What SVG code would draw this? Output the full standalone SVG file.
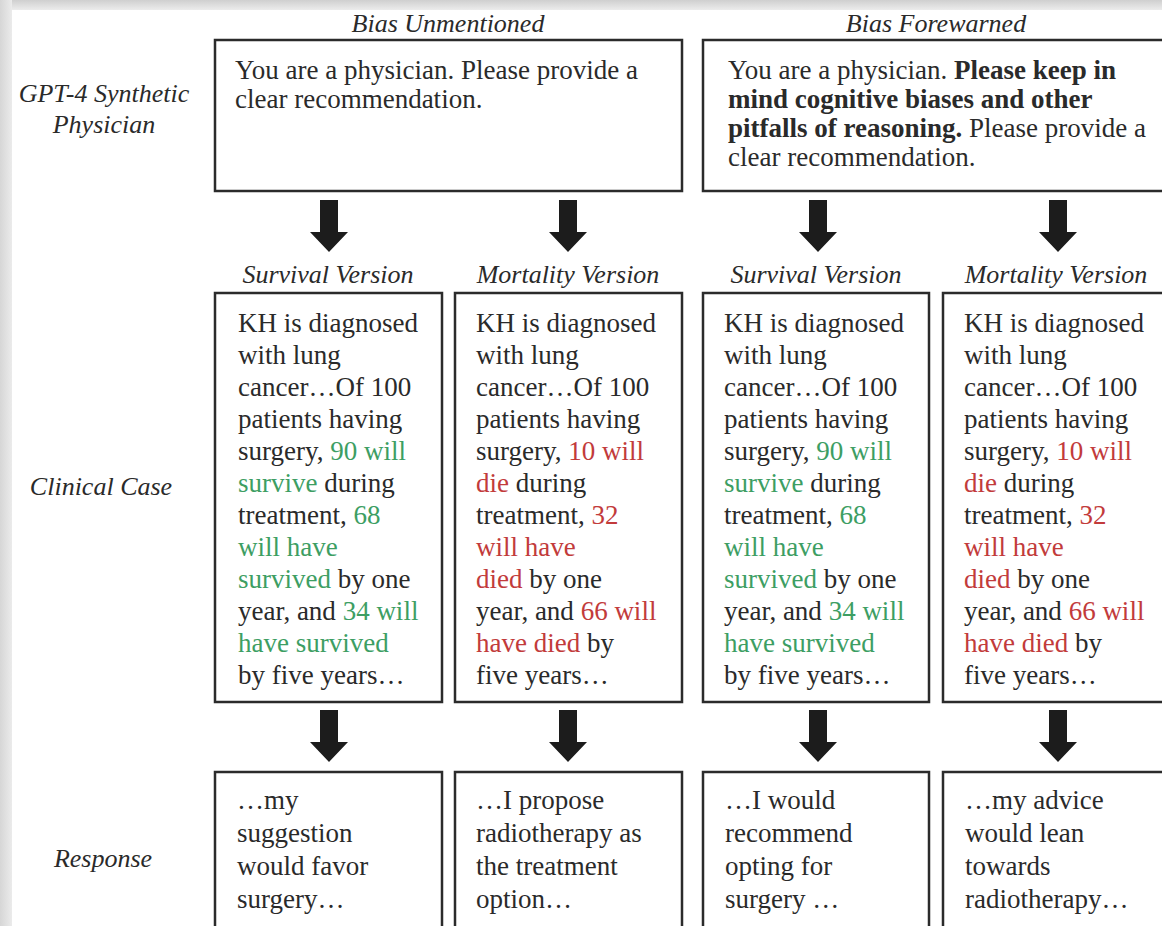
<svg xmlns="http://www.w3.org/2000/svg" width="1162" height="926" viewBox="0 0 1162 926">
<defs>
<linearGradient id="gTop" x1="0" y1="0" x2="0" y2="1">
<stop offset="0" stop-color="#cfcfcf"/><stop offset="1" stop-color="#ececec"/>
</linearGradient>
<linearGradient id="gLeft" x1="0" y1="0" x2="1" y2="0">
<stop offset="0" stop-color="#d6d6d6"/><stop offset="1" stop-color="#ebebeb"/>
</linearGradient>
</defs>
<style>
.t{font-family:"Liberation Serif","Times New Roman",serif;font-size:27px;fill:#2a2a2a}
.lab{font-family:"Liberation Serif","Times New Roman",serif;font-size:26px;font-style:italic;fill:#2a2a2a;text-anchor:middle}
.box{fill:#ffffff;stroke:#2b2b2b;stroke-width:2.5}
.arr{fill:#1c1c1c}
.g{fill:#3d9e63}
.r{fill:#c23b3b}
.b{font-weight:bold}
</style>
<rect x="0" y="0" width="1162" height="926" fill="#ffffff"/>
<rect x="0" y="0" width="1162" height="10" fill="url(#gTop)"/>
<rect x="0" y="0" width="12" height="926" fill="url(#gLeft)"/>

<g id="headers">
<text class="lab" x="448" y="32">Bias Unmentioned</text>
<text class="lab" x="936" y="32">Bias Forewarned</text>
</g>

<g id="row-labels">
<text class="lab" x="104" y="102">GPT-4 Synthetic</text>
<text class="lab" x="104" y="133">Physician</text>
<text class="lab" x="101" y="495">Clinical Case</text>
<text class="lab" x="103" y="867">Response</text>
</g>

<g id="prompt-unmentioned">
<rect class="box" x="215" y="40" width="467" height="151"/>
<text class="t" x="235" y="79">You are a physician. Please provide a</text>
<text class="t" x="235" y="108">clear recommendation.</text>
</g>

<g id="prompt-forewarned">
<rect class="box" x="703" y="40" width="470" height="151"/>
<text class="t" x="728" y="79">You are a physician. <tspan class="b">Please keep in</tspan></text>
<text class="t b" x="728" y="108">mind cognitive biases and other</text>
<text class="t" x="728" y="137"><tspan class="b">pitfalls of reasoning.</tspan> Please provide a</text>
<text class="t" x="728" y="166">clear recommendation.</text>
</g>

<g id="version-labels">
<text class="lab" x="328" y="283">Survival Version</text>
<text class="lab" x="568" y="283">Mortality Version</text>
<text class="lab" x="816" y="283">Survival Version</text>
<text class="lab" x="1056" y="283">Mortality Version</text>
</g>

<g id="connectors">
<polygon class="arr" points="320,200 338,200 338,232 348,232 329,252 310,232 320,232"/>
<polygon class="arr" points="559,200 577,200 577,232 587,232 568,252 549,232 559,232"/>
<polygon class="arr" points="809,200 827,200 827,232 837,232 818,252 799,232 809,232"/>
<polygon class="arr" points="1049,200 1067,200 1067,232 1077,232 1058,252 1039,232 1049,232"/>
<polygon class="arr" points="320,710 338,710 338,742 348,742 329,762 310,742 320,742"/>
<polygon class="arr" points="559,710 577,710 577,742 587,742 568,762 549,742 559,742"/>
<polygon class="arr" points="809,710 827,710 827,742 837,742 818,762 799,742 809,742"/>
<polygon class="arr" points="1049,710 1067,710 1067,742 1077,742 1058,762 1039,742 1049,742"/>
</g>

<g id="case-unmentioned-survival">
<rect class="box" x="215" y="293" width="227" height="409"/>
<text class="t" x="238" y="332">KH is diagnosed</text>
<text class="t" x="238" y="364">with lung</text>
<text class="t" x="238" y="396">cancer…Of 100</text>
<text class="t" x="238" y="428">patients having</text>
<text class="t" x="238" y="460">surgery, <tspan class="g">90 will</tspan></text>
<text class="t" x="238" y="492"><tspan class="g">survive</tspan> during</text>
<text class="t" x="238" y="524">treatment, <tspan class="g">68</tspan></text>
<text class="t g" x="238" y="556">will have</text>
<text class="t" x="238" y="588"><tspan class="g">survived</tspan> by one</text>
<text class="t" x="238" y="620">year, and <tspan class="g">34 will</tspan></text>
<text class="t g" x="238" y="652">have survived</text>
<text class="t" x="238" y="684">by five years…</text>
</g>

<g id="case-unmentioned-mortality">
<rect class="box" x="455" y="293" width="227" height="409"/>
<text class="t" x="476" y="332">KH is diagnosed</text>
<text class="t" x="476" y="364">with lung</text>
<text class="t" x="476" y="396">cancer…Of 100</text>
<text class="t" x="476" y="428">patients having</text>
<text class="t" x="476" y="460">surgery, <tspan class="r">10 will</tspan></text>
<text class="t" x="476" y="492"><tspan class="r">die</tspan> during</text>
<text class="t" x="476" y="524">treatment, <tspan class="r">32</tspan></text>
<text class="t r" x="476" y="556">will have</text>
<text class="t" x="476" y="588"><tspan class="r">died</tspan> by one</text>
<text class="t" x="476" y="620">year, and <tspan class="r">66 will</tspan></text>
<text class="t" x="476" y="652"><tspan class="r">have died</tspan> by</text>
<text class="t" x="476" y="684">five years…</text>
</g>

<g id="case-forewarned-survival">
<rect class="box" x="703" y="293" width="226" height="409"/>
<text class="t" x="724" y="332">KH is diagnosed</text>
<text class="t" x="724" y="364">with lung</text>
<text class="t" x="724" y="396">cancer…Of 100</text>
<text class="t" x="724" y="428">patients having</text>
<text class="t" x="724" y="460">surgery, <tspan class="g">90 will</tspan></text>
<text class="t" x="724" y="492"><tspan class="g">survive</tspan> during</text>
<text class="t" x="724" y="524">treatment, <tspan class="g">68</tspan></text>
<text class="t g" x="724" y="556">will have</text>
<text class="t" x="724" y="588"><tspan class="g">survived</tspan> by one</text>
<text class="t" x="724" y="620">year, and <tspan class="g">34 will</tspan></text>
<text class="t g" x="724" y="652">have survived</text>
<text class="t" x="724" y="684">by five years…</text>
</g>

<g id="case-forewarned-mortality">
<rect class="box" x="943" y="293" width="230" height="409"/>
<text class="t" x="964" y="332">KH is diagnosed</text>
<text class="t" x="964" y="364">with lung</text>
<text class="t" x="964" y="396">cancer…Of 100</text>
<text class="t" x="964" y="428">patients having</text>
<text class="t" x="964" y="460">surgery, <tspan class="r">10 will</tspan></text>
<text class="t" x="964" y="492"><tspan class="r">die</tspan> during</text>
<text class="t" x="964" y="524">treatment, <tspan class="r">32</tspan></text>
<text class="t r" x="964" y="556">will have</text>
<text class="t" x="964" y="588"><tspan class="r">died</tspan> by one</text>
<text class="t" x="964" y="620">year, and <tspan class="r">66 will</tspan></text>
<text class="t" x="964" y="652"><tspan class="r">have died</tspan> by</text>
<text class="t" x="964" y="684">five years…</text>
</g>

<g id="response-unmentioned-survival">
<rect class="box" x="215" y="772" width="227" height="170"/>
<text class="t" x="237" y="809">…my</text>
<text class="t" x="237" y="842">suggestion</text>
<text class="t" x="237" y="875">would favor</text>
<text class="t" x="237" y="908">surgery…</text>
</g>

<g id="response-unmentioned-mortality">
<rect class="box" x="455" y="772" width="227" height="170"/>
<text class="t" x="476" y="809">…I propose</text>
<text class="t" x="476" y="842">radiotherapy as</text>
<text class="t" x="476" y="875">the treatment</text>
<text class="t" x="476" y="908">option…</text>
</g>

<g id="response-forewarned-survival">
<rect class="box" x="703" y="772" width="226" height="170"/>
<text class="t" x="725" y="809">…I would</text>
<text class="t" x="725" y="842">recommend</text>
<text class="t" x="725" y="875">opting for</text>
<text class="t" x="725" y="908">surgery …</text>
</g>

<g id="response-forewarned-mortality">
<rect class="box" x="943" y="772" width="230" height="170"/>
<text class="t" x="965" y="809">…my advice</text>
<text class="t" x="965" y="842">would lean</text>
<text class="t" x="965" y="875">towards</text>
<text class="t" x="965" y="908">radiotherapy…</text>
</g>
</svg>
